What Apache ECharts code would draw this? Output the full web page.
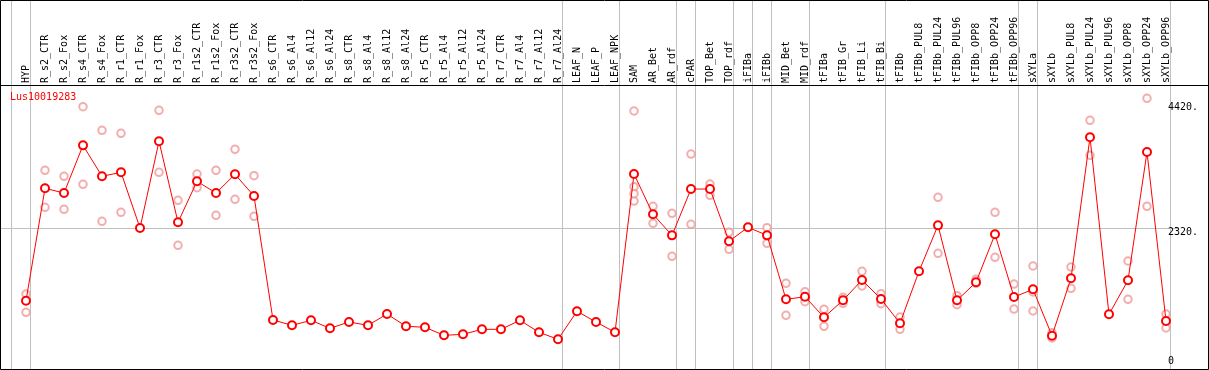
<!DOCTYPE html>
<html><head><meta charset="utf-8">
<script src="https://cdn.jsdelivr.net/npm/echarts@6/dist/echarts.min.js"></script>
<style>html,body{margin:0;padding:0;background:#fff}#c{width:1209px;height:370px}</style>
</head><body><div id="c"></div>
<script>
const categories = ['HYP','R_s2_CTR','R_s2_Fox','R_s4_CTR','R_s4_Fox','R_r1_CTR','R_r1_Fox','R_r3_CTR','R_r3_Fox','R_r1s2_CTR','R_r1s2_Fox','R_r3s2_CTR','R_r3s2_Fox','R_s6_CTR','R_s6_Al4','R_s6_Al12','R_s6_Al24','R_s8_CTR','R_s8_Al4','R_s8_Al12','R_s8_Al24','R_r5_CTR','R_r5_Al4','R_r5_Al12','R_r5_Al24','R_r7_CTR','R_r7_Al4','R_r7_Al12','R_r7_Al24','LEAF_N','LEAF_P','LEAF_NPK','SAM','AR_Bet','AR_rdf','cPAR','TOP_Bet','TOP_rdf','iFIBa','iFIBb','MID_Bet','MID_rdf','tFIBa','tFIB_Gr','tFIB_Li','tFIB_Bi','tFIBb','tFIBb_PUL8','tFIBb_PUL24','tFIBb_PUL96','tFIBb_OPP8','tFIBb_OPP24','tFIBb_OPP96','sXYLa','sXYLb','sXYLb_PUL8','sXYLb_PUL24','sXYLb_PUL96','sXYLb_OPP8','sXYLb_OPP24','sXYLb_OPP96'];

const meanValues = [1104,2992,2913,3714,3194,3261,2325,3782,2421,3110,2913,3227,2863,
  780,690,774,640,746,690,880,674,657,522,539,623,623,774,573,455,
  926,746,573,
  3232,2555,2202,2980,2980,2102,2337,2202,1127,1171,825,1110,1452,1132,724,
  1598,2370,1110,1413,2219,1166,
  1295,516,
  1480,3849,875,1446,3602,763];

const repHigh = [1216,3294,3194,4363,3966,3916,null,4302,2790,3232,3294,3647,3204,
  null,null,null,null,null,null,null,null,null,null,null,null,null,null,null,null,
  null,null,null,
  4291,2690,2572,3568,3064,2253,null,2330,1396,1255,959,1161,1598,1221,830,
  null,2841,1188,1463,2589,1384,
  1687,566,
  1670,4134,null,1771,4504,880];

const repLow = [909,2673,2639,3059,2437,2589,null,3261,2034,3002,2538,2807,2522,
  null,null,null,null,null,null,null,null,null,null,null,null,null,null,null,null,
  null,null,null,
  2778,2404,1850,2387,2874,1967,null,2068,858,1087,674,1060,1351,1053,623,
  null,1900,1037,1396,1833,964,
  931,477,
  1312,3546,null,1127,2690,645];

const extraReplicates = [['SAM',3019],['SAM',2902],['sXYLa',1250]];

const yTickValues = [4420, 2320, 0];
const yTickLabels = ['4420.', '2320.', '0'];
const gridValue = 2320;
const separatorAfter = [-1,0,28,31,34,35,37,38,39,41,45,52,53,60];
const geneName = 'Lus10019283';
const yMax = 4728;

const FONT = 'DejaVu Sans Mono';
const chart = echarts.init(document.getElementById('c'), null, {renderer:'canvas'});

const pinkData = [];
categories.forEach((c, i) => {
  if (repHigh[i] != null) pinkData.push([i, repHigh[i]]);
  if (repLow[i] != null) pinkData.push([i, repLow[i]]);
});
extraReplicates.forEach(([c, v]) => pinkData.push([categories.indexOf(c), v]));

const option = {
  animation: false,
  backgroundColor: '#fff',
  grid: {left: 16.5, right: 33.5, top: 85, bottom: 3.6, containLabel: false},
  xAxis: {
    type: 'category', data: categories, position: 'top', boundaryGap: true,
    axisLine: {show: false}, axisTick: {show: false}, splitLine: {show: false},
    axisLabel: {rotate: 90, interval: 0, margin: 2, fontFamily: FONT, fontSize: 10, color: '#000'}
  },
  yAxis: {
    type: 'value', min: 0, max: yMax, show: true,
    axisLine: {show: false}, axisTick: {show: false}, axisLabel: {show: false}, splitLine: {show: false}
  },
  series: [
    {
      type: 'scatter', data: pinkData, symbol: 'emptyCircle', symbolSize: 7.5,
      itemStyle: {color: '#ef9a9a', borderColor: '#ee9090', borderWidth: 1.2}, z: 2, silent: true
    },
    {
      type: 'line', data: meanValues, symbol: 'emptyCircle', symbolSize: 8,
      lineStyle: {color: '#ff0000', width: 1},
      itemStyle: {color: '#ff0000', borderColor: '#ee0000', borderWidth: 1.6}, z: 3, silent: true
    }
  ]
};
chart.setOption(option);

const p0 = chart.convertToPixel({xAxisIndex: 0}, 0);
const p1 = chart.convertToPixel({xAxisIndex: 0}, 1);
const bw = p1 - p0;
const graphics = [];
separatorAfter.forEach((i, k) => {
  const x = Math.floor(p0 + i * bw + 4.3) + 0.5;
  graphics.push({type: 'line', id: 'sep' + k, z: 0, silent: true, shape: {x1: x, y1: 0, x2: x, y2: 370},
    style: {stroke: '#c0c0c0', lineWidth: 1}});
});
const gy = Math.round(chart.convertToPixel({yAxisIndex: 0}, gridValue)) + 0.5;
graphics.push({type: 'line', id: 'hgrid', z: 0, silent: true, shape: {x1: 0, y1: gy, x2: 1178, y2: gy}, style: {stroke: '#c0c0c0', lineWidth: 1}});
graphics.push({type: 'line', id: 'topline', z: 10, silent: true, shape: {x1: 0, y1: 85.5, x2: 1209, y2: 85.5}, style: {stroke: '#000', lineWidth: 1}});
graphics.push({type: 'rect', id: 'border', z: 10, silent: true, shape: {x: 0.5, y: 0.5, width: 1208, height: 369}, style: {fill: 'none', stroke: '#000', lineWidth: 1}});
yTickValues.forEach((v, k) => {
  const y = chart.convertToPixel({yAxisIndex: 0}, v);
  graphics.push({type: 'text', id: 'yt' + k, z: 10, silent: true, x: 1168, y: v === 0 ? y : y - 1,
    style: {text: yTickLabels[k], fill: '#000', font: '10px "' + FONT + '"', textAlign: 'left', textVerticalAlign: v === 0 ? 'bottom' : 'top'}});
});
graphics.push({type: 'text', id: 'gene', z: 10, silent: true, x: 10, y: 97,
  style: {text: geneName, fill: '#ff0000', font: '10px "' + FONT + '"', textAlign: 'left', textVerticalAlign: 'middle'}});
chart.setOption({graphic: {elements: graphics}});
</script></body></html>
